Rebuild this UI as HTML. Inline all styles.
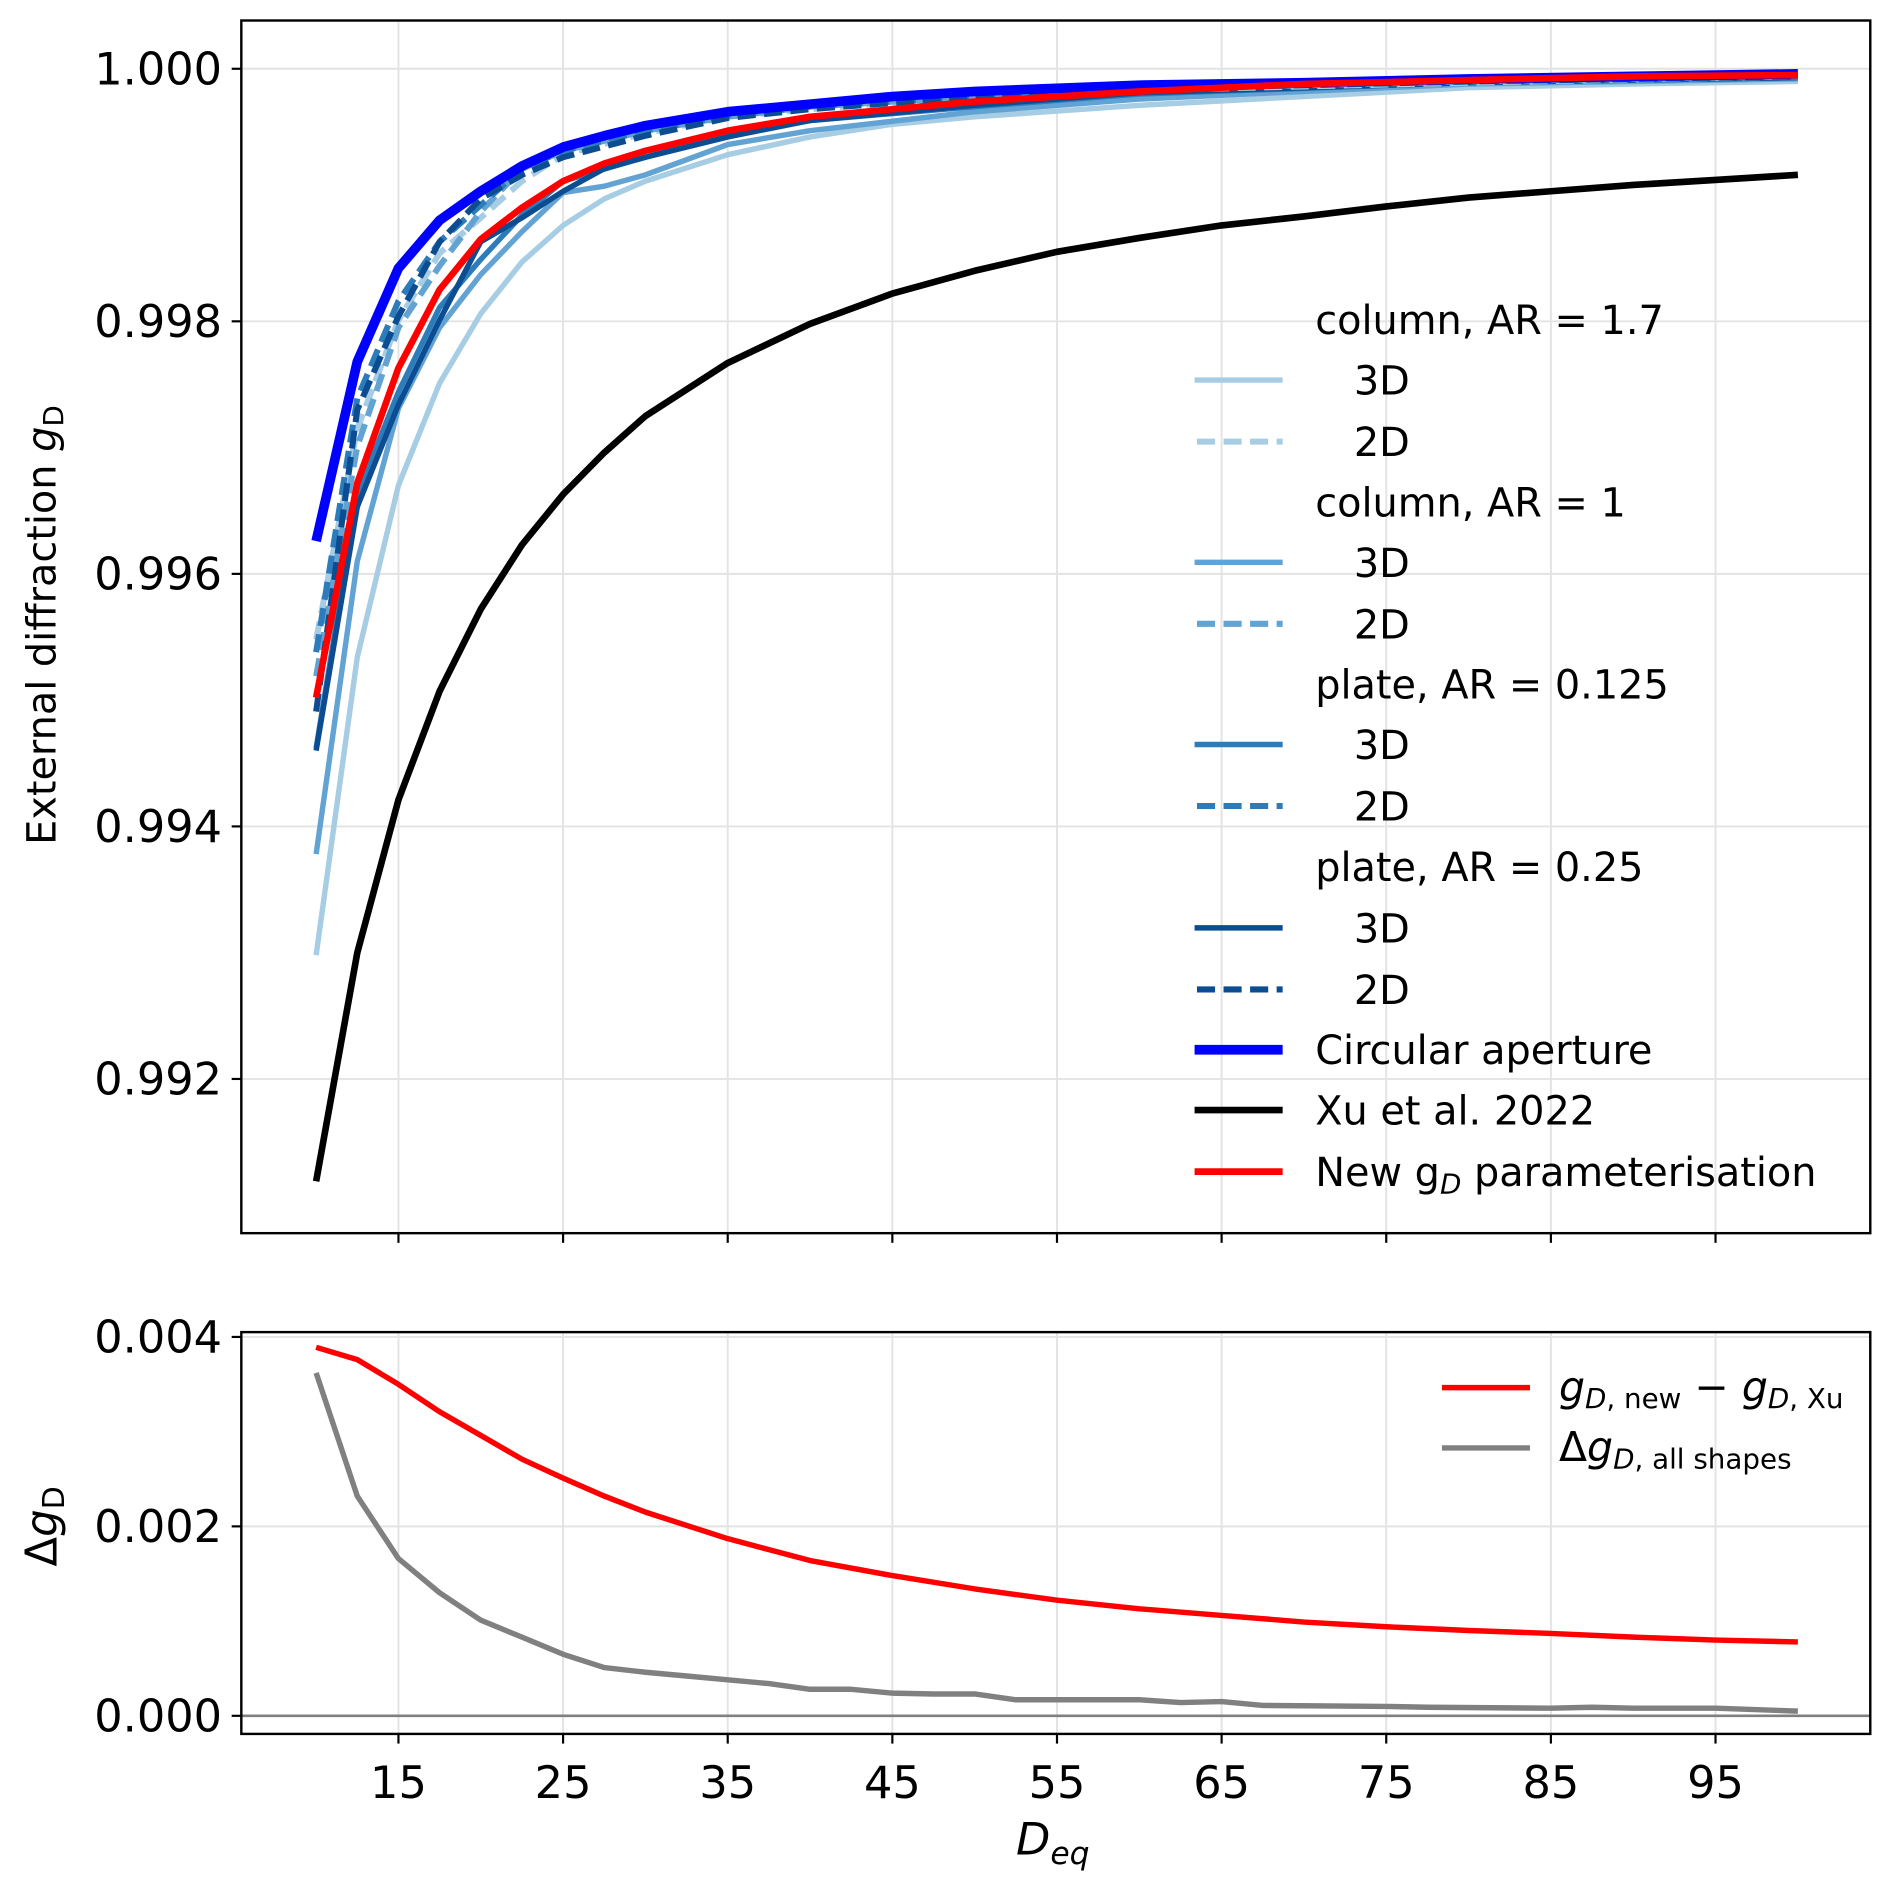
<!DOCTYPE html>
<html><head><meta charset="utf-8"><style>
html,body{margin:0;padding:0;background:#fff}
svg{display:block;font-family:"DejaVu Sans","Liberation Sans",sans-serif}
</style></head><body>
<svg id="fig" width="1892" height="1888" viewBox="0 0 1568 1564.7" preserveAspectRatio="none" xmlns="http://www.w3.org/2000/svg">
<g id="topPanel"></g>
<g id="botPanel"></g>
</svg>
<script>
// ---------- data ----------
const xA = [10,12.5,15,17.5,20,22.5,25,30,35,40,50,60,80,100];
const xB = [10,12.5,15,17.5,20,22.5,25,27.5,30,35,40,50,60,80,100];
const xC = [10,12.5,15,17.5,20,22.5,25,27.5,30,35,40,45,50,60,70,80,90,100];
const xXu = [10,12.5,15,17.5,20,22.5,25,27.5,30,35,40,45,50,55,60,65,70,75,80,85,90,95,100];
const col17_3D = [0.99298,0.99534,0.99670,0.99751,0.99806,0.99847,0.99876,0.99897,0.99911,0.99932,0.99946,0.99956,0.99962,0.99971,0.99978,0.99985,0.99988,0.99990];
const col17_2D = [0.99548,0.99715,0.99801,0.99854,0.99882,0.99911,0.99932,0.99949,0.99962,0.99968,0.99978,0.99983,0.99989,0.99994];
const col1_3D = [0.99378,0.99610,0.99731,0.99795,0.99837,0.99871,0.99902,0.99907,0.99916,0.99940,0.99951,0.99966,0.99976,0.99988,0.99992];
const col1_2D = [0.99519,0.99701,0.99795,0.99844,0.99887,0.99921,0.99935,0.99951,0.99962,0.99970,0.99978,0.99984,0.99990,0.99994];
const pl125_3D = [0.99462,0.99663,0.99744,0.99811,0.99849,0.99884,0.99911,0.99930,0.99949,0.99959,0.99970,0.99980,0.99989,0.99993];
const pl125_2D = [0.99538,0.99739,0.99816,0.99863,0.99892,0.99921,0.99935,0.99951,0.99963,0.99970,0.99978,0.99984,0.99990,0.99994];
const pl25_3D = [0.99460,0.99653,0.99734,0.99801,0.99863,0.99882,0.99903,0.99921,0.99930,0.99946,0.99959,0.99971,0.99981,0.99989,0.99993];
const pl25_2D = [0.99491,0.99730,0.99804,0.99863,0.99897,0.99916,0.99930,0.99947,0.99961,0.99968,0.99978,0.99984,0.99990,0.99994];
const circular = [0.99626,0.99768,0.99842,0.99880,0.99903,0.99923,0.99938,0.99947,0.99955,0.99966,0.99972,0.99978,0.99982,0.99987,0.99989,0.99992,0.99994,0.99996];
const newParam = [0.99502,0.99672,0.99763,0.99825,0.99865,0.99890,0.99911,0.99925,0.99935,0.99951,0.99962,0.99968,0.99974,0.99982,0.99988,0.99991,0.99994,0.99995];
const xu2022 = [0.99119,0.99300,0.99421,0.99507,0.99572,0.99623,0.99663,0.99696,0.99725,0.99767,0.99798,0.99822,0.99840,0.99855,0.99866,0.99876,0.99883,0.99891,0.99898,0.99903,0.99908,0.99912,0.99916];
const xDiff = [10,12.5,15,17.5,20,22.5,25,27.5,30,35,40,45,50,55,60,65,70,75,80,85,90,95,100];
const diffNew = [0.00389,0.00376,0.00350,0.00321,0.00296,0.00271,0.00251,0.00232,0.00215,0.00187,0.00164,0.00148,0.00134,0.00122,0.00113,0.00106,0.00099,0.00094,0.00090,0.00087,0.00083,0.00080,0.00078];
const xAll = [10,12.5,15,17.5,20,22.5,25,27.5,30,32.5,35,37.5,40,42.5,45,47.5,50,52.5,60,62.5,65,67.5,75,77.5,85,87.5,90,95,100];
const diffAll = [0.00362,0.00232,0.00166,0.00130,0.00101,0.00083,0.00065,0.00051,0.00046,0.00042,0.00038,0.00034,0.00028,0.00028,0.00024,0.00023,0.00023,0.00017,0.00017,0.00014,0.00015,0.00011,0.00010,0.00009,0.00008,0.00009,0.00008,0.00008,0.00005];
const xTicks = [15,25,35,45,55,65,75,85,95];
const yTicksTop = [0.992,0.994,0.996,0.998,1.000];
const yTicksBot = [0.000,0.002,0.004];

// ---------- scales ----------
const X = v => 262 + (v-10)*13.644;
const YT = v => 57 + (1-v)*104650;
const YB = v => 1422 - v*78500;
const NS='http://www.w3.org/2000/svg';
function mk(tag, attrs, parent){const e=document.createElementNS(NS,tag);for(const k in attrs)e.setAttribute(k,attrs[k]);parent.appendChild(e);return e;}
const topG=document.getElementById('topPanel'), botG=document.getElementById('botPanel');

function frame(g,l,t,r,b,yt,Y,nameP){
  for(const v of xTicks){const gl=mk('line',{x1:X(v),x2:X(v),y1:t,y2:b,stroke:'#e3e3e3','stroke-width':1.6},g);
    
    }
  for(const v of yt){const gl=mk('line',{x1:l,x2:r,y1:Y(v),y2:Y(v),stroke:'#e3e3e3','stroke-width':1.6},g);
    
    
    const tk=mk('line',{x1:l-8,x2:l,y1:Y(v),y2:Y(v),stroke:'#000','stroke-width':1.8},g);
    
    
    const tx=mk('text',{x:l-16,y:Y(v)+13,'text-anchor':'end','font-size':37},g);tx.textContent=v.toFixed(3);
    
    }
  for(const v of xTicks){const tk=mk('line',{x1:X(v),x2:X(v),y1:b,y2:b+8,stroke:'#000','stroke-width':1.8},g);
    
    }
}
function series(g,xs,ys,Y,color,w,dash,name){
  const d=xs.map((x,i)=>(i?'L':'M')+X(x).toFixed(1)+','+Y(ys[i]).toFixed(1)).join('');
  const p=mk('path',{d:d,fill:'none',stroke:color,'stroke-width':w,'stroke-linejoin':'round'},g);
  if(dash)p.setAttribute('stroke-dasharray',dash);
  
  
}
// top panel
frame(topG,200,17,1550,1022,yTicksTop,YT,'top');
const cA='#a6cde4',cB='#62a3d3',cC='#2c7bbb',cD='#0c4d92';
series(topG,xC,col17_3D,YT,cA,4.5,null,'column-1.7-3d-line');
series(topG,xB,col1_3D,YT,cB,4.5,null,'column-1-3d-line');
series(topG,xA,pl125_3D,YT,cC,4.5,null,'plate-0.125-3d-line');
series(topG,xB,pl25_3D,YT,cD,4.5,null,'plate-0.25-3d-line');
series(topG,xA,col17_2D,YT,cA,5,'15 7','column-1.7-2d-line');
series(topG,xA,col1_2D,YT,cB,5,'15 7','column-1-2d-line');
series(topG,xA,pl125_2D,YT,cC,5,'15 7','plate-0.125-2d-line');
series(topG,xA,pl25_2D,YT,cD,5,'15 7','plate-0.25-2d-line');
series(topG,xC,circular,YT,'#0000ff',8,null,'circular-aperture-line');
series(topG,xXu,xu2022,YT,'#000',5.5,null,'xu-2022-line');
series(topG,xC,newParam,YT,'#ff0000',5.5,null,'new-parameterisation-line');
const f1=mk('rect',{x:200,y:17,width:1350,height:1005,fill:'none',stroke:'#000','stroke-width':2},topG);


// bottom panel
frame(botG,200,1104,1550,1437,yTicksBot,YB,'bottom');
const z=mk('line',{x1:200,x2:1550,y1:YB(0),y2:YB(0),stroke:'#808080','stroke-width':2.2},botG);


series(botG,xDiff,diffNew,YB,'#ff0000',4.5,null,'new-minus-xu-line');
series(botG,xAll,diffAll,YB,'#808080',4.5,null,'all-shapes-spread-line');
const f2=mk('rect',{x:200,y:1104,width:1350,height:333,fill:'none',stroke:'#000','stroke-width':2},botG);


for(const v of xTicks){const t=mk('text',{x:X(v),y:1490,'text-anchor':'middle','font-size':37},botG);t.textContent=v;
  
  }
</script>
<svg style="position:absolute;left:0;top:0" width="1892" height="1888" viewBox="0 0 1568 1564.7" preserveAspectRatio="none" font-family="DejaVu Sans, Liberation Sans, sans-serif">
<text transform="translate(46,518) rotate(-90)" text-anchor="middle" font-size="33">External diffraction <tspan font-style="italic">g</tspan><tspan font-size="23" dy="6">D</tspan></text>
<text transform="translate(47,1265) rotate(-90)" text-anchor="middle" font-size="36">Δ<tspan font-style="italic">g</tspan><tspan font-size="25" dy="6">D</tspan></text>
<text x="842" y="1537" font-size="37" font-style="italic">D<tspan font-size="26" dy="8">eq</tspan></text>
<g font-size="33">
<text x="1090" y="277">column, AR = 1.7</text>
<line x1="990" x2="1063" y1="315" y2="315" stroke="#a6cde4" stroke-width="4.5"/><text x="1122" y="327">3D</text>
<line x1="992" x2="1063" y1="366" y2="366" stroke="#a6cde4" stroke-width="5" stroke-dasharray="15 7"/><text x="1122" y="378">2D</text>
<text x="1090" y="428">column, AR = 1</text>
<line x1="990" x2="1063" y1="466" y2="466" stroke="#62a3d3" stroke-width="4.5"/><text x="1122" y="478">3D</text>
<line x1="992" x2="1063" y1="517" y2="517" stroke="#62a3d3" stroke-width="5" stroke-dasharray="15 7"/><text x="1122" y="529">2D</text>
<text x="1090" y="579">plate, AR = 0.125</text>
<line x1="990" x2="1063" y1="617" y2="617" stroke="#2c7bbb" stroke-width="4.5"/><text x="1122" y="629">3D</text>
<line x1="992" x2="1063" y1="668" y2="668" stroke="#2c7bbb" stroke-width="5" stroke-dasharray="15 7"/><text x="1122" y="680">2D</text>
<text x="1090" y="730">plate, AR = 0.25</text>
<line x1="990" x2="1063" y1="769" y2="769" stroke="#0c4d92" stroke-width="4.5"/><text x="1122" y="781">3D</text>
<line x1="992" x2="1063" y1="820" y2="820" stroke="#0c4d92" stroke-width="5" stroke-dasharray="15 7"/><text x="1122" y="832">2D</text>
<line x1="990" x2="1063" y1="870" y2="870" stroke="#0000ff" stroke-width="8"/><text x="1090" y="882">Circular aperture</text>
<line x1="990" x2="1063" y1="920" y2="920" stroke="#000" stroke-width="5.5"/><text x="1090" y="932">Xu et al. 2022</text>
<line x1="990" x2="1063" y1="971" y2="971" stroke="#ff0000" stroke-width="5.5"/><text x="1090" y="983">New g<tspan font-size="23" dy="6" font-style="italic">D</tspan><tspan dy="-6"> parameterisation</tspan></text>
</g>
<g font-size="34">
<line x1="1195" x2="1268" y1="1150" y2="1150" stroke="#ff0000" stroke-width="4.5"/>
<text x="1292" y="1161"><tspan font-style="italic">g</tspan><tspan font-size="23" dy="6"><tspan font-style="italic">D</tspan>, new</tspan><tspan dy="-6"> − </tspan><tspan font-style="italic">g</tspan><tspan font-size="23" dy="6"><tspan font-style="italic">D</tspan>, Xu</tspan></text>
<line x1="1195" x2="1268" y1="1200" y2="1200" stroke="#808080" stroke-width="4.5"/>
<text x="1292" y="1211">Δ<tspan font-style="italic">g</tspan><tspan font-size="23" dy="6"><tspan font-style="italic">D</tspan>, all shapes</tspan></text>
</g>
</svg>
</body></html>
